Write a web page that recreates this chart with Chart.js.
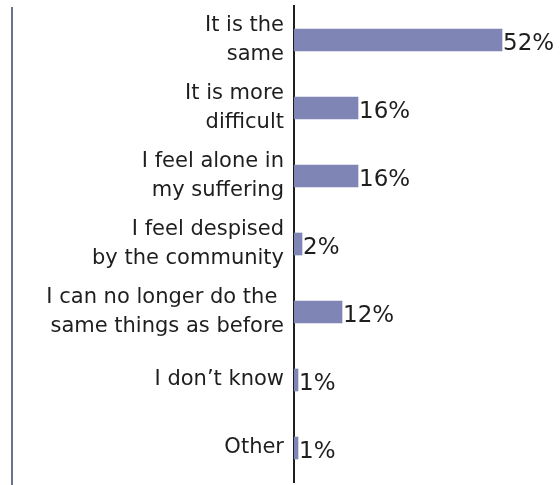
<!DOCTYPE html>
<html>
<head>
<meta charset="utf-8">
<script src="https://cdn.jsdelivr.net/npm/chart.js@4/dist/chart.umd.min.js"></script>
<style>
  html, body { margin: 0; padding: 0; background: #ffffff; }
  #wrap { width: 560px; height: 485px; position: relative; }
</style>
</head>
<body>
<div id="wrap"><canvas id="c" width="560" height="485"></canvas></div>
<script>
// Survey answers and their shares (%)
const categories = [
  ["It is the", "same"],
  ["It is more", "difficult"],
  ["I feel alone in", "my suffering"],
  ["I feel despised", "by the community"],
  ["I can no longer do the ", "same things as before"],
  "I don\u2019t know",
  "Other"
];
const shares = [52, 16, 16, 2, 12, 1, 1];

const barColor = "#7f86b5";
const textColor = "#1e1e1e";
const fontFamily = "'DejaVu Sans', sans-serif";

// Thin vertical rule on the far left
const leftRule = {
  id: "leftRule",
  beforeDraw(chart) {
    const ctx = chart.ctx;
    ctx.save();
    ctx.strokeStyle = "#6e7192";
    ctx.lineWidth = 2;
    ctx.beginPath();
    ctx.moveTo(12, 7);
    ctx.lineTo(12, 485);
    ctx.stroke();
    ctx.restore();
  }
};

// Percentage printed just past the end of each bar
const valueLabels = {
  id: "valueLabels",
  afterDatasetsDraw(chart) {
    const ctx = chart.ctx;
    const meta = chart.getDatasetMeta(0);
    ctx.save();
    ctx.fillStyle = textColor;
    ctx.font = "23px " + fontFamily;
    ctx.textAlign = "left";
    ctx.textBaseline = "middle";
    meta.data.forEach((bar, i) => {
      ctx.fillText(shares[i] + "%", bar.x + 1, bar.y + 4);
    });
    ctx.restore();
  }
};

new Chart(document.getElementById("c"), {
  type: "bar",
  data: {
    labels: categories,
    datasets: [{
      data: shares,
      backgroundColor: barColor,
      borderWidth: 0,
      barThickness: 22
    }]
  },
  options: {
    indexAxis: "y",
    responsive: false,
    animation: false,
    layout: { padding: { top: 6, bottom: 3, left: 0, right: 0 } },
    plugins: { legend: { display: false }, tooltip: { enabled: false } },
    scales: {
      x: {
        display: false,
        min: 0,
        max: 66.5
      },
      y: {
        afterFit(axis) {
          axis.width = 294;
          axis.paddingTop = 0;
          axis.paddingBottom = 0;
        },
        grid: { display: false, drawTicks: false },
        border: { display: true, color: textColor, width: 2 },
        ticks: {
          color: textColor,
          padding: 10,
          font: { family: fontFamily, size: 21, lineHeight: 1.35 }
        }
      }
    }
  },
  plugins: [leftRule, valueLabels]
});
</script>
</body>
</html>
